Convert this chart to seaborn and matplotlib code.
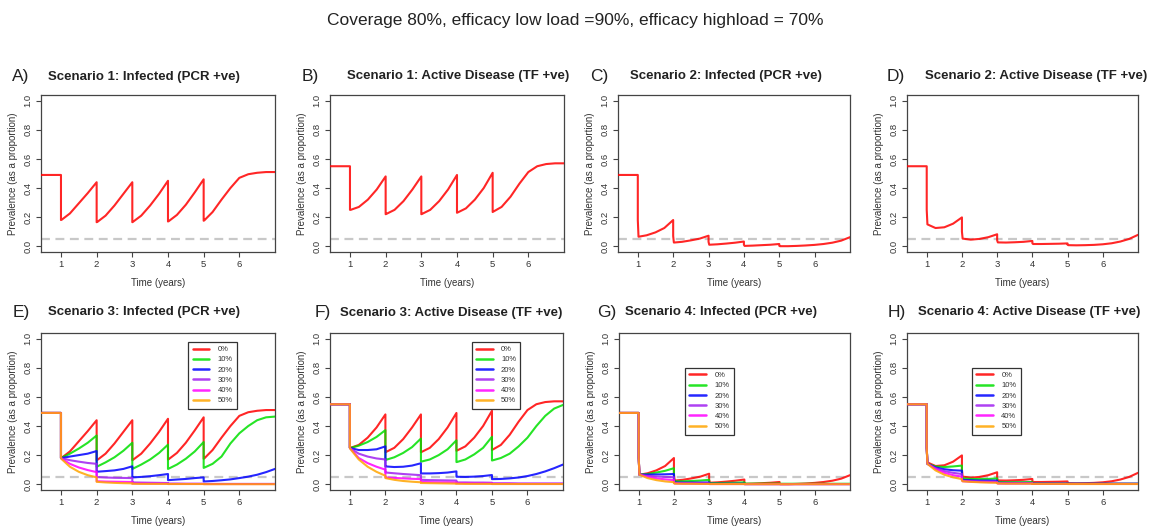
import matplotlib
matplotlib.use("Agg")
import matplotlib.pyplot as plt
import numpy as np
import pandas as pd
import seaborn as sns

# ---------------- data ----------------
time_years = [0.44, 1.0, 1.0, 1.02, 1.25, 1.5, 1.75, 2.0, 2.0, 2.02, 2.25, 2.5, 2.75,
              3.0, 3.0, 3.02, 3.25, 3.5, 3.75, 4.0, 4.0, 4.02, 4.25, 4.5, 4.75,
              5.0, 5.0, 5.02, 5.25, 5.5, 5.75, 6.0, 6.25, 6.5, 6.75, 7.0]

uptake_labels = ["0%", "10%", "20%", "30%", "40%", "50%"]

# Scenario 1
s1_infected = [0.49, 0.49, 0.18, 0.182, 0.225, 0.295, 0.365, 0.44, 0.165, 0.167, 0.21, 0.28, 0.36,
               0.44, 0.165, 0.168, 0.21, 0.28, 0.36, 0.45, 0.17, 0.172, 0.215, 0.285, 0.37,
               0.46, 0.175, 0.178, 0.235, 0.32, 0.40, 0.47, 0.495, 0.505, 0.51, 0.51]
s1_active = [0.55, 0.55, 0.25, 0.25, 0.27, 0.32, 0.39, 0.48, 0.22, 0.222, 0.25, 0.31, 0.39,
             0.48, 0.22, 0.222, 0.25, 0.31, 0.39, 0.49, 0.23, 0.232, 0.26, 0.32, 0.40,
             0.505, 0.235, 0.238, 0.27, 0.34, 0.43, 0.51, 0.55, 0.565, 0.57, 0.57]

# Scenario 2
s2_infected = [0.49, 0.49, 0.18, 0.065, 0.075, 0.095, 0.125, 0.18, 0.07, 0.025, 0.03, 0.04, 0.052,
               0.072, 0.03, 0.01, 0.013, 0.018, 0.024, 0.032, 0.01, 0.002, 0.004, 0.007, 0.01,
               0.015, 0.003, 0.0, 0.0, 0.002, 0.005, 0.009, 0.015, 0.024, 0.038, 0.062]
s2_active = [0.55, 0.55, 0.25, 0.15, 0.125, 0.13, 0.155, 0.198, 0.10, 0.052, 0.045, 0.05, 0.062,
             0.082, 0.04, 0.026, 0.025, 0.027, 0.03, 0.036, 0.02, 0.015, 0.015, 0.016, 0.017,
             0.019, 0.01, 0.007, 0.006, 0.007, 0.009, 0.013, 0.02, 0.032, 0.05, 0.078]

# Scenario 3 (0% uptake equals scenario 1)
s3_inf_10 = [0.49, 0.49, 0.18, 0.182, 0.21, 0.245, 0.285, 0.335, 0.12, 0.122, 0.15, 0.185, 0.23,
             0.285, 0.105, 0.107, 0.135, 0.17, 0.215, 0.272, 0.105, 0.107, 0.135, 0.175, 0.225,
             0.29, 0.112, 0.114, 0.14, 0.19, 0.28, 0.35, 0.40, 0.44, 0.46, 0.465]
s3_inf_20 = [0.49, 0.49, 0.18, 0.18, 0.19, 0.20, 0.21, 0.228, 0.086, 0.086, 0.09, 0.095, 0.105,
             0.123, 0.047, 0.047, 0.05, 0.055, 0.062, 0.07, 0.028, 0.028, 0.032, 0.036, 0.042,
             0.047, 0.019, 0.019, 0.022, 0.027, 0.033, 0.042, 0.052, 0.065, 0.083, 0.105]
s3_inf_30 = [0.49, 0.49, 0.18, 0.178, 0.165, 0.155, 0.146, 0.14, 0.05, 0.049, 0.046, 0.044, 0.043,
             0.042, 0.012, 0.012, 0.011, 0.01, 0.009, 0.008, 0.004, 0.004, 0.004, 0.003, 0.003,
             0.003, 0.002, 0.002, 0.002, 0.002, 0.002, 0.002, 0.002, 0.002, 0.002, 0.002]
s3_inf_40 = [0.49, 0.49, 0.18, 0.175, 0.14, 0.115, 0.097, 0.083, 0.02, 0.02, 0.018, 0.017, 0.016,
             0.015, 0.005, 0.005, 0.005, 0.004, 0.004, 0.004, 0.002, 0.002, 0.002, 0.002, 0.002,
             0.002, 0.001, 0.001, 0.001, 0.001, 0.001, 0.001, 0.001, 0.001, 0.001, 0.001]
s3_inf_50 = [0.49, 0.49, 0.18, 0.172, 0.12, 0.085, 0.062, 0.047, 0.016, 0.016, 0.012, 0.009, 0.007,
             0.006, 0.003, 0.003, 0.002, 0.002, 0.002, 0.002, 0.001, 0.001, 0.001, 0.001, 0.001,
             0.001, 0.0, 0.0, 0.0, 0.0, 0.0, 0.0, 0.0, 0.0, 0.0, 0.0]

s3_act_10 = [0.55, 0.55, 0.25, 0.25, 0.265, 0.29, 0.325, 0.372, 0.167, 0.168, 0.185, 0.215, 0.255,
             0.314, 0.155, 0.156, 0.17, 0.20, 0.24, 0.302, 0.152, 0.153, 0.17, 0.205, 0.25,
             0.326, 0.163, 0.164, 0.18, 0.21, 0.26, 0.32, 0.40, 0.47, 0.52, 0.545]
s3_act_20 = [0.55, 0.55, 0.25, 0.248, 0.235, 0.235, 0.24, 0.26, 0.123, 0.122, 0.118, 0.12, 0.128,
             0.144, 0.074, 0.074, 0.074, 0.076, 0.08, 0.088, 0.051, 0.051, 0.05, 0.052, 0.056,
             0.063, 0.035, 0.035, 0.036, 0.04, 0.046, 0.056, 0.07, 0.088, 0.11, 0.135]
s3_act_30 = [0.55, 0.55, 0.25, 0.245, 0.21, 0.19, 0.177, 0.17, 0.081, 0.08, 0.075, 0.07, 0.066,
             0.062, 0.03, 0.03, 0.028, 0.027, 0.026, 0.025, 0.012, 0.012, 0.012, 0.011, 0.011,
             0.01, 0.006, 0.006, 0.006, 0.006, 0.005, 0.005, 0.005, 0.005, 0.005, 0.005]
s3_act_40 = [0.55, 0.55, 0.25, 0.243, 0.18, 0.145, 0.12, 0.10, 0.047, 0.046, 0.043, 0.04, 0.037,
             0.035, 0.015, 0.015, 0.014, 0.013, 0.013, 0.012, 0.006, 0.006, 0.006, 0.005, 0.005,
             0.005, 0.003, 0.003, 0.003, 0.003, 0.002, 0.002, 0.002, 0.002, 0.002, 0.002]
s3_act_50 = [0.55, 0.55, 0.25, 0.24, 0.17, 0.12, 0.085, 0.058, 0.042, 0.041, 0.03, 0.022, 0.017,
             0.013, 0.008, 0.008, 0.007, 0.006, 0.005, 0.004, 0.003, 0.003, 0.002, 0.002, 0.002,
             0.002, 0.001, 0.001, 0.001, 0.001, 0.001, 0.001, 0.001, 0.001, 0.001, 0.001]

# Scenario 4 (0% uptake equals scenario 2)
s4_inf_10 = [0.49, 0.49, 0.18, 0.065, 0.07, 0.08, 0.092, 0.11, 0.045, 0.02, 0.02, 0.022, 0.025,
             0.03, 0.012, 0.008, 0.008, 0.009, 0.01, 0.013, 0.006, 0.004, 0.004, 0.004, 0.004,
             0.004, 0.003, 0.003, 0.003, 0.003, 0.003, 0.003, 0.003, 0.003, 0.003, 0.003]
s4_inf_20 = [0.49, 0.49, 0.18, 0.065, 0.066, 0.067, 0.068, 0.07, 0.03, 0.012, 0.011, 0.011, 0.011,
             0.012, 0.005, 0.003, 0.003, 0.003, 0.003, 0.003, 0.002, 0.001, 0.001, 0.001, 0.001,
             0.001, 0.001, 0.001, 0.001, 0.001, 0.001, 0.001, 0.001, 0.001, 0.001, 0.001]
s4_inf_30 = [0.49, 0.49, 0.18, 0.065, 0.058, 0.053, 0.05, 0.048, 0.02, 0.008, 0.007, 0.006, 0.006,
             0.005, 0.003, 0.002, 0.002, 0.002, 0.002, 0.002, 0.001, 0.001, 0.001, 0.001, 0.001,
             0.001, 0.001, 0.001, 0.001, 0.001, 0.001, 0.001, 0.001, 0.001, 0.001, 0.001]
s4_inf_40 = [0.49, 0.49, 0.18, 0.065, 0.05, 0.04, 0.033, 0.028, 0.012, 0.005, 0.004, 0.004, 0.003,
             0.003, 0.002, 0.001, 0.001, 0.001, 0.001, 0.001, 0.0, 0.0, 0.0, 0.0, 0.0,
             0.0, 0.0, 0.0, 0.0, 0.0, 0.0, 0.0, 0.0, 0.0, 0.0, 0.0]
s4_inf_50 = [0.49, 0.49, 0.18, 0.065, 0.042, 0.028, 0.019, 0.014, 0.007, 0.004, 0.003, 0.003, 0.002,
             0.002, 0.001, 0.001, 0.001, 0.001, 0.001, 0.001, 0.0, 0.0, 0.0, 0.0, 0.0,
             0.0, 0.0, 0.0, 0.0, 0.0, 0.0, 0.0, 0.0, 0.0, 0.0, 0.0]

s4_act_10 = [0.55, 0.55, 0.25, 0.14, 0.122, 0.118, 0.122, 0.128, 0.06, 0.04, 0.036, 0.035, 0.036,
             0.04, 0.02, 0.015, 0.014, 0.014, 0.014, 0.015, 0.008, 0.006, 0.006, 0.006, 0.006,
             0.006, 0.004, 0.004, 0.004, 0.004, 0.004, 0.004, 0.004, 0.004, 0.004, 0.004]
s4_act_20 = [0.55, 0.55, 0.25, 0.14, 0.115, 0.103, 0.096, 0.093, 0.045, 0.03, 0.027, 0.025, 0.025,
             0.025, 0.013, 0.01, 0.009, 0.009, 0.009, 0.009, 0.005, 0.004, 0.004, 0.004, 0.004,
             0.004, 0.003, 0.003, 0.003, 0.003, 0.003, 0.003, 0.003, 0.003, 0.003, 0.003]
s4_act_30 = [0.55, 0.55, 0.25, 0.14, 0.11, 0.09, 0.078, 0.07, 0.035, 0.024, 0.021, 0.019, 0.018,
             0.017, 0.009, 0.007, 0.006, 0.006, 0.006, 0.006, 0.003, 0.003, 0.003, 0.003, 0.003,
             0.003, 0.002, 0.002, 0.002, 0.002, 0.002, 0.002, 0.002, 0.002, 0.002, 0.002]
s4_act_40 = [0.55, 0.55, 0.25, 0.14, 0.105, 0.078, 0.062, 0.052, 0.028, 0.02, 0.017, 0.015, 0.014,
             0.013, 0.007, 0.005, 0.005, 0.005, 0.005, 0.005, 0.003, 0.002, 0.002, 0.002, 0.002,
             0.002, 0.002, 0.002, 0.002, 0.002, 0.002, 0.002, 0.002, 0.002, 0.002, 0.002]
s4_act_50 = [0.55, 0.55, 0.25, 0.14, 0.095, 0.065, 0.047, 0.035, 0.025, 0.02, 0.016, 0.013, 0.011,
             0.01, 0.006, 0.005, 0.004, 0.004, 0.004, 0.004, 0.002, 0.002, 0.002, 0.002, 0.002,
             0.002, 0.001, 0.001, 0.001, 0.001, 0.001, 0.001, 0.001, 0.001, 0.001, 0.001]

threshold = 0.05
y_ticks = [0.0, 0.2, 0.4, 0.6, 0.8, 1.0]
x_ticks = [1, 2, 3, 4, 5, 6]

suptitle = "Coverage 80%, efficacy low load =90%, efficacy highload = 70%"

panels = [
    ("A)", "Scenario 1: Infected (PCR +ve)", [s1_infected]),
    ("B)", "Scenario 1: Active Disease (TF +ve)", [s1_active]),
    ("C)", "Scenario 2: Infected (PCR +ve)", [s2_infected]),
    ("D)", "Scenario 2: Active Disease (TF +ve)", [s2_active]),
    ("E)", "Scenario 3: Infected (PCR +ve)",
     [s1_infected, s3_inf_10, s3_inf_20, s3_inf_30, s3_inf_40, s3_inf_50]),
    ("F)", "Scenario 3: Active Disease (TF +ve)",
     [s1_active, s3_act_10, s3_act_20, s3_act_30, s3_act_40, s3_act_50]),
    ("G)", "Scenario 4: Infected (PCR +ve)",
     [s2_infected, s4_inf_10, s4_inf_20, s4_inf_30, s4_inf_40, s4_inf_50]),
    ("H)", "Scenario 4: Active Disease (TF +ve)",
     [s2_active, s4_act_10, s4_act_20, s4_act_30, s4_act_40, s4_act_50]),
]

# ---------------- styling / layout ----------------
sns.set_style("ticks")
plt.rcParams["font.family"] = ["Liberation Sans", "DejaVu Sans"]

colors = ["#FF0000", "#00E000", "#0000FF", "#A020F0", "#FF00FF", "#FFA500"]
palette = dict(zip(uptake_labels, colors))

W, H = 1150, 528
fig = plt.figure(figsize=(W / 100, H / 100), dpi=100)


def frac_rect(left, top, width, height):
    return [left / W, 1 - (top + height) / H, width / W, height / H]


# axes boxes in pixels: (left, top, width, height)
boxes = [(41, 95, 234, 157), (330, 95, 234, 157), (618, 95, 232, 157), (907, 95, 231, 157),
         (41, 333, 234, 157), (330, 333, 233, 157), (619, 333, 231, 157), (907, 333, 231, 157)]
# letter x, title x, title y (pixels)
title_pos = [(12, 48, 77), (302, 347, 76), (590, 630, 76), (887, 925, 76),
             (13, 48, 312), (315, 340, 313), (597, 625, 312), (888, 918, 312)]
legend_anchor = [None, None, None, None, (0.63, 0.945), (0.608, 0.945), (0.286, 0.78), (0.281, 0.78)]

axis_col = "#444444"

for i, (letter, title, series) in enumerate(panels):
    ax = fig.add_axes(frac_rect(*boxes[i]))
    ax.axhline(threshold, color="#c8c8c8", lw=1.6, dashes=(4, 2.5), zorder=1)
    labs = uptake_labels[:len(series)]
    df = pd.DataFrame({
        "time": np.tile(time_years, len(series)),
        "prevalence": np.concatenate([np.asarray(s, float) for s in series]),
        "uptake": np.repeat(labs, len(time_years)),
    })
    sns.lineplot(data=df, x="time", y="prevalence", hue="uptake", hue_order=labs,
                 palette={k: palette[k] for k in labs}, estimator=None, sort=False,
                 lw=1.5, alpha=0.85, ax=ax, legend=len(series) > 1, zorder=3)
    ax.set_xlim(0.44, 7.0)
    ax.set_ylim(-0.04, 1.04)
    ax.set_xticks(x_ticks)
    ax.set_xticklabels([str(t) for t in x_ticks], fontsize=6.8, color="#333333")
    ax.set_yticks(y_ticks)
    ax.set_yticklabels([f"{v:.1f}" for v in y_ticks], fontsize=6.8, color="#333333",
                       rotation=90, va="center")
    ax.tick_params(direction="out", length=3.5, width=0.8, color=axis_col, pad=2.5)
    for sp in ax.spines.values():
        sp.set_visible(True)
        sp.set_color(axis_col)
        sp.set_linewidth(0.9)
    ax.set_xlabel("Time (years)", fontsize=7, color="#333333", labelpad=6)
    ax.set_ylabel("Prevalence (as a proportion)", fontsize=7, color="#333333", labelpad=4)

    lx, tx, ty = title_pos[i]
    fig.text(lx / W, 1 - ty / H, letter, fontsize=12.5, color="#222222", va="center", ha="left")
    fig.text(tx / W, 1 - ty / H, title, fontsize=9.5, fontweight="bold", color="#222222",
             va="center", ha="left")

    if legend_anchor[i] is not None:
        handles, labels = ax.get_legend_handles_labels()
        leg = ax.legend(handles, labels, loc="upper left", bbox_to_anchor=legend_anchor[i],
                        fontsize=5.5, frameon=True, fancybox=False, edgecolor="#333333",
                        framealpha=1, handlelength=2.2, handletextpad=1.1, labelspacing=0.38,
                        borderpad=0.55, borderaxespad=0)
        leg.get_frame().set_linewidth(0.9)
        for ln in leg.get_lines():
            ln.set_linewidth(1.8)
            ln.set_alpha(0.85)
        for t in leg.get_texts():
            t.set_color("#333333")

fig.text(0.5, 1 - 20 / H, suptitle, fontsize=12.5, ha="center", va="center", color="#222222")

fig.savefig("out.png", dpi=100)
